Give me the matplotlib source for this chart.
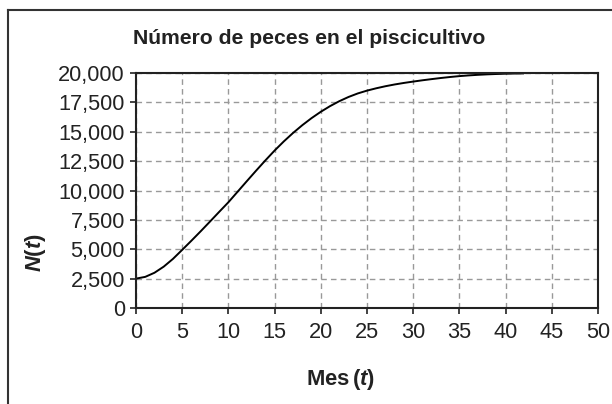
import numpy as np
import matplotlib
matplotlib.use('Agg')
import matplotlib.pyplot as plt
from matplotlib.lines import Line2D

plt.rcParams['font.family'] = 'Liberation Sans'
plt.rcParams['mathtext.fontset'] = 'custom'
plt.rcParams['mathtext.bf'] = 'Liberation Sans:bold'
plt.rcParams['mathtext.it'] = 'Liberation Sans:italic:bold'
plt.rcParams['mathtext.rm'] = 'Liberation Sans:bold'

# months and fish count read month by month
mes = list(range(0, 43))
peces = [2500, 2650, 3000, 3520, 4180, 4950, 5730, 6530, 7350, 8180,
         9000, 9900, 10800, 11690, 12560, 13400, 14180, 14900, 15560, 16160,
         16700, 17180, 17600, 17960, 18260, 18500, 18700, 18875, 19025, 19155,
         19270, 19380, 19480, 19575, 19660, 19735, 19795, 19845, 19885, 19915,
         19940, 19955, 19965]

xticks = list(range(0, 51, 5))
yticks = list(range(0, 20001, 2500))

W, H = 612, 404
fig = plt.figure(figsize=(W / 100, H / 100), dpi=100)
ax = fig.add_axes([136 / W, 1 - 308 / H, (598 - 136) / W, (308 - 73) / H])

ax.plot(mes, peces, color='black', lw=1.4, solid_capstyle='butt')

ax.set_xlim(0, 50)
ax.set_ylim(0, 20000)
ax.set_xticks(xticks)
ax.set_yticks(yticks)
ax.set_yticklabels(['{:,}'.format(v) for v in yticks])
ax.grid(True, color='#999999', ls=(0, (4, 3)), lw=1.0)
ax.set_axisbelow(True)
for s in ax.spines.values():
    s.set_linewidth(1.5)
    s.set_color('#222222')
ax.tick_params(axis='both', direction='out', length=4, width=1.2,
               labelsize=15.7, colors='#222222', labelcolor='#222222')
ax.tick_params(axis='y', pad=4)
ax.tick_params(axis='x', pad=6)

fig.text(309 / W, 1 - 38 / H, 'Número de peces en el piscicultivo',
         ha='center', va='center', fontsize=15.2, fontweight='bold', color='#222222')
fig.text(340 / W, 1 - 380 / H, r'$\mathbf{Mes}\,\mathbf{(}\mathit{t}\mathbf{)}$',
         ha='center', va='center', fontsize=15.8, color='#222222')
fig.text(36 / W, 1 - 253 / H, r'$\mathit{N(t)}$', rotation=90,
         ha='center', va='center', fontsize=15.8, color='#222222')

# outer frame, left and top edges
fig.add_artist(Line2D([8 / W, 8 / W], [0, 1 - 10 / H], color='#333333', lw=1.5,
                      transform=fig.transFigure))
fig.add_artist(Line2D([8 / W, 1], [1 - 10 / H, 1 - 10 / H], color='#333333', lw=1.5,
                      transform=fig.transFigure))

fig.savefig('out.png', dpi=100)
